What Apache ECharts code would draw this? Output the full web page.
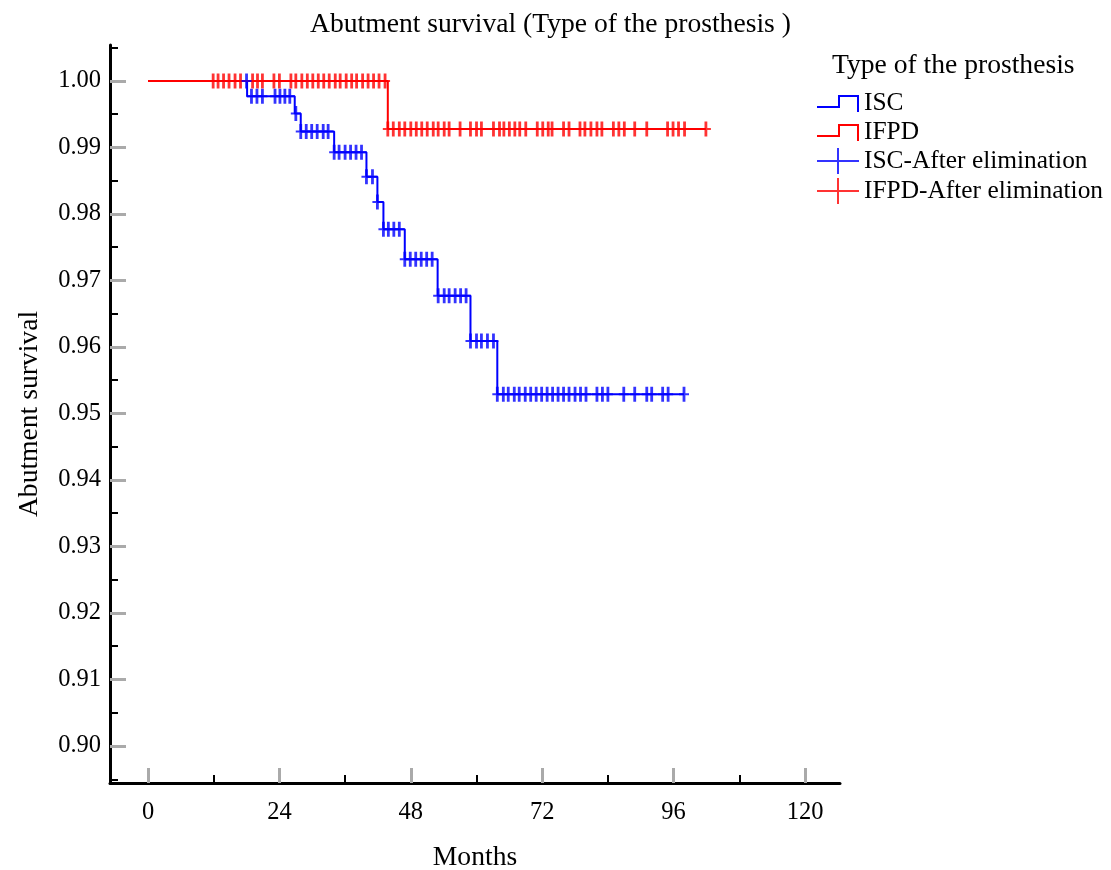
<!DOCTYPE html>
<html>
<head>
<meta charset="utf-8">
<script src="https://cdn.jsdelivr.net/npm/echarts@6/dist/echarts.min.js"></script>
<style>html,body{margin:0;padding:0;background:#fff}#c{width:1111px;height:870px}</style>
</head>
<body>
<div id="c"></div>
<script>
// ---- Data ----
const chartTitle = 'Abutment survival (Type of the prosthesis )';
const legendTitle = 'Type of the prosthesis';
const xName = 'Months';
const yName = 'Abutment survival';
const xTicks = [0, 24, 48, 72, 96, 120];
const yTicks = [0.90, 0.91, 0.92, 0.93, 0.94, 0.95, 0.96, 0.97, 0.98, 0.99, 1.00];

// ISC Kaplan-Meier step curve (event times in months, survival after event)
const iscTimes = [0, 18.1, 26.8, 27.9, 34.0, 39.9, 41.9, 43.0, 46.9, 52.9, 58.9, 63.8, 97.9];
const iscSurv  = [1.0, 0.9977, 0.9951, 0.9924, 0.9893, 0.9856, 0.9818, 0.9777, 0.9732, 0.9677, 0.9609, 0.9529, 0.9529];
// IFPD Kaplan-Meier step curve
const ifpdTimes = [0, 43.8, 101.9];
const ifpdSurv  = [1.0, 0.9928, 0.9928];

// Censored observations (months)
const iscCensored = [18.0, 18.9, 19.9, 20.9, 23.2, 24.1, 25.0, 25.9, 27.0,
  27.9, 28.9, 29.9, 30.9, 32.0, 32.9, 34.0, 34.9, 36.0, 37.0, 38.0, 39.0,
  39.9, 41.0, 41.9, 43.0, 43.9, 44.9, 45.9, 46.9, 47.9, 48.9, 49.9, 50.9, 51.9,
  53.0, 54.1, 55.0, 56.1, 57.1, 58.1, 58.9, 60.0, 60.9, 62.0, 63.1,
  63.8, 64.9, 65.8, 66.9, 67.8, 68.9, 69.9, 70.9, 71.9, 72.9, 73.9, 74.9, 75.9, 76.9,
  78.0, 79.0, 80.0, 82.0, 83.0, 84.0, 86.9, 88.9, 91.1, 92.0, 94.0, 95.0, 97.9];
const ifpdCensored = [11.9, 12.8, 13.8, 14.8, 15.9, 16.9, 19.1, 20.0, 20.9, 23.0, 24.0,
  26.1, 27.0, 28.1, 29.1, 30.1, 31.1, 32.1, 33.1, 34.2, 35.1, 36.2, 37.2, 38.1, 39.2,
  40.2, 41.2, 42.2, 43.3,
  43.8, 44.8, 45.9, 46.9, 48.0, 49.0, 50.0, 51.0, 52.1, 53.0, 54.1, 55.0, 57.0, 58.9,
  60.0, 60.9, 63.1, 64.2, 65.0, 66.0, 67.0, 67.9, 69.0, 71.1, 72.1, 73.1, 73.8, 75.9,
  76.9, 78.9, 79.8, 80.9, 82.0, 82.9, 85.0, 86.0, 87.0, 88.9, 91.1, 94.9, 95.9, 96.9,
  98.0, 101.9];

// ---- Build ----
function kmValue(times, surv, t) {
  let v = surv[0];
  for (let i = 0; i < times.length; i++) { if (times[i] <= t + 1e-9) v = surv[i]; }
  return v;
}
const zip = (a, b) => a.map((v, i) => [v, b[i]]);
const censorPts = (c, times, surv) => c.map(t => [t, kmValue(times, surv, t)]);

const FONT = 'Liberation Serif';
const BLUE = '#0000ff', RED = '#ff0000';
const plusSym = 'path://M3.6,0 H6.4 V15 H3.6 Z M0,6.5 H10 V8.5 H0 Z';
const stepIcon = 'path://M0,11 H21 V0 H42 V17 H40 V2 H23 V13 H0 Z';
const plusIcon = 'path://M0,12 H20 V0 H22 V12 H42 V14 H22 V26 H20 V14 H0 Z';

const chart = echarts.init(document.getElementById('c'), null, {renderer: 'canvas'});
const txt = (size) => ({fontFamily: FONT, fontSize: size, color: '#000', fontWeight: 'normal'});
const G = (o) => Object.assign({outerBoundsMode: 'none', containLabel: false}, o);

chart.setOption({
  animation: false,
  backgroundColor: '#fff',
  title: [
    {text: chartTitle, left: 310, top: 11, padding: 0, textStyle: txt(27.6)},
    {text: legendTitle, left: 832, top: 52, padding: 0, textStyle: txt(27.6)}
  ],
  legend: [
    {data: [{name: 'ISC', icon: stepIcon}, {name: 'IFPD', icon: stepIcon}],
     orient: 'vertical', left: 817, top: 91, padding: 0, itemWidth: 42, itemHeight: 17, itemGap: 4,
     selectedMode: false, itemStyle: {borderWidth: 0}, textStyle: Object.assign(txt(25.4), {lineHeight: 25})},
    {data: [{name: 'ISC-After elimination', icon: plusIcon}, {name: 'IFPD-After elimination', icon: plusIcon}],
     orient: 'vertical', left: 817, top: 148, padding: 0, itemWidth: 42, itemHeight: 26, itemGap: 4,
     selectedMode: false, itemStyle: {borderWidth: 0}, textStyle: Object.assign(txt(25.4), {lineHeight: 25})}
  ],
  grid: [
    G({left: 110, top: 45, width: 730, height: 738}),       // axis lines frame
    G({left: 148, top: 81, width: 657, height: 665}),       // data: 0..120 x 0.90..1.00
    G({left: 110, top: 47.75, width: 730, height: 731.5}),  // y minor ticks 0.895..1.005
    G({left: 110, top: 81, width: 730, height: 665}),       // y major ticks + labels 0.90..1.00
    G({left: 148, top: 45, width: 657, height: 738})        // x ticks + labels 0..120
  ],
  xAxis: [
    {gridIndex: 0, type: 'value', min: 0, max: 1,
     axisLine: {show: true, lineStyle: {color: '#000', width: 3}},
     axisTick: {show: false}, axisLabel: {show: false}, splitLine: {show: false},
     name: xName, nameLocation: 'middle', nameGap: 61, nameTextStyle: txt(27.6)},
    {gridIndex: 1, type: 'value', min: xTicks[0], max: xTicks[xTicks.length - 1], show: false},
    {gridIndex: 2, type: 'value', min: 0, max: 1, show: false},
    {gridIndex: 3, type: 'value', min: 0, max: 1, show: false},
    {gridIndex: 4, type: 'value', min: xTicks[0], max: xTicks[xTicks.length - 1], interval: 24,
     axisLine: {show: false},
     axisTick: {show: true, inside: true, length: 15, lineStyle: {color: '#aaaaaa', width: 3}},
     minorTick: {show: true, splitNumber: 2, length: 8, lineStyle: {color: '#000', width: 2}},
     axisLabel: Object.assign({margin: 17}, txt(24.5)),
     splitLine: {show: false}, minorSplitLine: {show: false}}
  ],
  yAxis: [
    {gridIndex: 0, type: 'value', min: 0, max: 1,
     axisLine: {show: true, lineStyle: {color: '#000', width: 3}},
     axisTick: {show: false}, axisLabel: {show: false}, splitLine: {show: false},
     name: yName, nameLocation: 'middle', nameGap: 66, nameTextStyle: txt(27.6)},
    {gridIndex: 1, type: 'value', min: yTicks[0], max: yTicks[yTicks.length - 1], show: false},
    {gridIndex: 2, type: 'value', min: 0.895, max: 1.005, interval: 0.01,
     axisLine: {show: false},
     axisTick: {show: true, inside: true, length: 8, lineStyle: {color: '#000', width: 2}},
     axisLabel: {show: false}, splitLine: {show: false}},
    {gridIndex: 3, type: 'value', min: yTicks[0], max: yTicks[yTicks.length - 1], interval: 0.01,
     axisLine: {show: false},
     axisTick: {show: true, inside: true, length: 16, lineStyle: {color: '#aaaaaa', width: 3}},
     axisLabel: Object.assign({margin: 9, padding: [4, 0, 0, 0], formatter: v => v.toFixed(2)}, txt(24.5)),
     splitLine: {show: false}},
    {gridIndex: 4, type: 'value', min: 0, max: 1, show: false}
  ],
  series: [
    {name: 'ISC', type: 'line', step: 'end', xAxisIndex: 1, yAxisIndex: 1,
     data: zip(iscTimes, iscSurv), showSymbol: false, symbol: 'none',
     color: BLUE, lineStyle: {color: BLUE, width: 2}, z: 3},
    {name: 'IFPD', type: 'line', step: 'end', xAxisIndex: 1, yAxisIndex: 1,
     data: zip(ifpdTimes, ifpdSurv), showSymbol: false, symbol: 'none',
     color: RED, lineStyle: {color: RED, width: 2}, z: 4},
    {name: 'IFPD-After elimination', type: 'scatter', xAxisIndex: 1, yAxisIndex: 1,
     data: censorPts(ifpdCensored, ifpdTimes, ifpdSurv), symbol: plusSym, symbolSize: [10, 15],
     symbolKeepAspect: false, itemStyle: {color: RED}, color: RED, z: 5},
    {name: 'ISC-After elimination', type: 'scatter', xAxisIndex: 1, yAxisIndex: 1,
     data: censorPts(iscCensored, iscTimes, iscSurv), symbol: plusSym, symbolSize: [10, 15],
     symbolKeepAspect: false, itemStyle: {color: BLUE}, color: BLUE, z: 6}
  ]
});
</script>
</body>
</html>
